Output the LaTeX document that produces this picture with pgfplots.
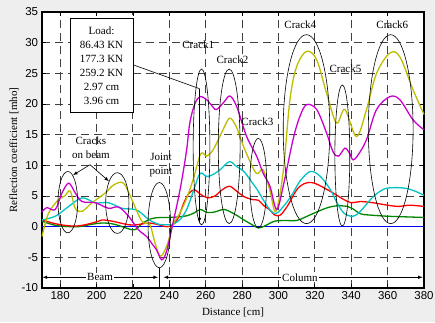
\documentclass[border=0pt]{standalone}
\usepackage{fontspec}
\setmainfont{Liberation Serif}
\setsansfont{Liberation Sans}
\usepackage{pgfplots}
\pgfplotsset{compat=1.18}
\definecolor{cmag}{RGB}{204,0,204}
\definecolor{cyel}{RGB}{190,190,0}
\definecolor{ccyan}{RGB}{0,196,196}
\definecolor{cgreen}{RGB}{0,135,0}
\definecolor{cred}{RGB}{255,0,0}
\definecolor{cblue}{RGB}{0,0,255}
\definecolor{bggray}{RGB}{238,238,238}
\begin{document}
\fontsize{11}{13}\selectfont
\begin{tikzpicture}
\fill[bggray] (-42pt,-34pt) rectangle (393pt,288pt);
\begin{axis}[
  at={(0,0)}, anchor=south west,
  scale only axis, width=382pt, height=276pt,
  xmin=170, xmax=380, ymin=-10, ymax=35,
  xtick={180,200,...,380}, ytick={-10,-5,...,35},
  grid=major,
  major grid style={black!75, line width=1pt, dash pattern=on 8pt off 5pt},
  axis line style={line width=1.5pt},
  tick style={black, line width=0.8pt}, tick align=inside, major tick length=4pt,
  ticklabel style={font=\sffamily\fontsize{11.5}{13}\selectfont},
  /pgf/number format/assume math mode=true,
  xlabel={Distance [cm]}, ylabel={Reflection coefficient [mho]},
  every axis x label/.style={at={(axis description cs:0.5,-0.087)}, anchor=center},
  every axis y label/.style={at={(axis description cs:-0.0733,0.5)}, rotate=90, anchor=center},
  label style={font=\fontsize{11}{13}\selectfont},
  axis background/.style={fill=white},
  clip=false,
  every axis plot/.append style={line width=1.3pt, smooth, tension=0.55},
]
\addplot[cblue, line width=1.6pt] coordinates {(170,0) (380,0)};
\addplot[cgreen] coordinates {
(170,0.9) (175,0.4) (180,0.1) (190,0.0) (197.5,0.4) (203,0.6) (208,0.5) (212,0.2) (216,-0.2) (221,-0.5) (225,0.5) (230,1.3) (235,1.5) (240,1.5) (245,1.6) (250,1.8) (254,2.3) (257,2.8) (261,2.3) (265,2.4) (270,2.8) (275,2.2) (281,1.1) (285,0.4) (289,-0.2) (293,0.2) (298,0.9) (305,1.0) (310,1.0) (315,1.6) (321,2.4) (327,3.1) (332,3.4) (338,3.3) (341,2.9) (345,2.1) (350,1.9) (360,1.7) (370,1.6) (380,1.5)};
\addplot[cred] coordinates {
(170,1.1) (177,0.5) (183,0.2) (189,0.1) (195,0.4) (200,0.8) (203,1.1) (208.5,0.9) (213,0.6) (218,0.3) (222,0.3) (226,0.5) (229,0.6) (233,0.4) (238.5,0.0) (242,0.3) (245,1.5) (248,3.9) (251,5.5) (254,6.0) (257,5.3) (261,4.7) (265,5.0) (269,6.0) (273,6.6) (277,5.8) (281,4.9) (286,4.4) (289,4.3) (292,3.4) (295,2.8) (298,1.9) (301,1.9) (305,3.4) (310,6.0) (314,7.0) (318,7.2) (322,6.8) (330,5.5) (335.5,4.5) (340,3.9) (345,4.1) (352,3.9) (360,3.5) (366,3.3) (372,3.5) (380,3.3)};
\addplot[ccyan] coordinates {
(170,1.1) (177.3,1.7) (184.7,3.3) (192,4.7) (199.3,3.9) (206.6,3.9) (213.9,3.0) (221.3,2.8) (225,2.1) (229,1.1) (234,0.4) (238.5,0.3) (242,0.4) (246,1.2) (249,2.5) (251,3.9) (254,6.5) (257,8.7) (260.5,8.2) (264,8.5) (268,9.3) (273,10.6) (277,9.8) (281,9.0) (285,7.4) (288.4,6.0) (292,4.2) (296,2.5) (299,2.2) (303,3.4) (307,5.0) (312,7.5) (317.6,9.0) (323,8.2) (328.6,6.0) (332,4.0) (336,2.2) (341,1.7) (345,2.5) (350.5,4.4) (355,5.6) (360,6.3) (369,6.3) (375,5.8) (380,5.1)};
\addplot[cyel] coordinates {
(170,-1.6) (173.6,2.2) (179.1,4.4) (182.5,5.0) (185.5,5.8) (188.3,3.0) (192,2.5) (197.5,3.9) (204.8,5.5) (209.4,6.8) (214.8,7.1) (219.4,4.4) (224.9,0.9) (229.3,0.3) (232,-2.5) (235,-4.8) (238.5,-3.2) (242,0.3) (245,1.8) (247.6,3.3) (250,5.0) (253.1,7.7) (256.7,11.5) (258.5,12.0) (260.4,11.5) (264,12.5) (269.5,15.8) (273.2,17.7) (276.8,16.3) (279,14.5) (282.3,12.0) (287.8,8.7) (291.5,9.3) (295.2,6.0) (298.5,2.5) (302.5,8.7) (306.3,20.7) (310,26.1) (315.5,28.6) (321,27.2) (326.4,21.8) (331.9,16.9) (336.5,19.1) (342.9,14.7) (348.4,19.1) (353.9,25.0) (361.2,28.3) (366.7,27.7) (374,22.3) (380,18.3)};
\addplot[cmag] coordinates {
(170,2.4) (172.7,3.1) (177.3,2.8) (181,5.5) (184.7,7.1) (188.3,5.5) (192,4.1) (199.3,3.9) (206.6,3.0) (212.1,3.2) (217.6,1.7) (223,-0.5) (227.5,-1.6) (230.5,-2.8) (233,-3.8) (235.8,-5.4) (238.5,-4.0) (242,0.6) (244.5,4.0) (246.8,7.5) (249.5,12.5) (251.3,17.0) (254,20.0) (256.8,21.2) (260.5,20.7) (264,19.5) (266,19.1) (270,20.3) (273.3,21.3) (277,19.6) (282.5,14.7) (288,11.5) (291.6,8.7) (295.3,6.6) (299,2.8) (302.6,6.6) (308,14.2) (311.8,18.0) (315.5,19.9) (321,19.1) (326.4,15.3) (330,12.2) (333,11.5) (336.5,12.8) (339,12.0) (341,10.9) (344,11.8) (348.4,14.2) (353.9,19.1) (361.2,21.2) (366.7,20.7) (374,17.4) (380,15.8)};
% ellipses
\draw[black, line width=0.6pt] (axis cs:184.2,4.0) ellipse [x radius=5.4, y radius=5.0];
\draw[black, line width=0.6pt] (axis cs:211.4,3.85) ellipse [x radius=6.4, y radius=4.95];
\draw[black, line width=0.6pt] (axis cs:234.5,0.25) ellipse [x radius=6.2, y radius=6.95];
\draw[black, line width=0.6pt] (axis cs:257.7,13.0) ellipse [x radius=4.6, y radius=12.7];
\draw[black, line width=0.6pt] (axis cs:272.9,13.1) ellipse [x radius=6.0, y radius=12.6];
\draw[black, line width=0.6pt] (axis cs:288.9,7.1) ellipse [x radius=4.6, y radius=7.3];
\draw[black, line width=0.6pt] (axis cs:315.4,15.9) ellipse [x radius=12.8, y radius=15.4];
\draw[black, line width=0.6pt] (axis cs:335.1,11.6) ellipse [x radius=4.1, y radius=11.5];
\draw[black, line width=0.6pt] (axis cs:361.7,15.9) ellipse [x radius=12.3, y radius=15.4];
% load box
\draw[black, line width=0.6pt] (axis cs:220,26.4) -- (axis cs:256.6,22.5);
\draw[black, line width=0.6pt, -latex] (axis cs:256.6,22.5) -- (axis cs:256.6,0.7);
\draw[black, line width=0.6pt, fill=white] (axis cs:185.4,18.6) rectangle (axis cs:220,34);
\node[align=center, font=\fontsize{11}{14}\selectfont] at (axis cs:202.7,26.3) {Load:\\86.43 KN\\177.3 KN\\259.2 KN\\2.97 cm\\3.96 cm};
% crack labels
\node at (axis cs:255.9,29.6) {Crack1};
\node at (axis cs:274.7,27.2) {Crack2};
\node at (axis cs:288.4,17.1) {Crack3};
\node at (axis cs:312,32.9) {Crack4};
\node at (axis cs:336.8,25.8) {Crack5};
\node at (axis cs:362.6,32.9) {Crack6};
\node[align=center, font=\fontsize{11}{14}\selectfont] at (axis cs:196.9,12.9) {Cracks\\on beam};
\node[align=center, font=\fontsize{11}{14}\selectfont] at (axis cs:235.4,10.1) {Joint\\point};
\draw[black, line width=0.6pt, -latex] (axis cs:196.4,10.1) -- (axis cs:187.0,8.4);
\draw[black, line width=0.6pt, -latex] (axis cs:196.4,10.1) -- (axis cs:206.8,7.4);
% beam / column
\draw[black, line width=0.6pt, latex-latex] (axis cs:170.3,-8.25) -- (axis cs:233.8,-8.25);
\node[fill=white, inner sep=1pt] at (axis cs:201.9,-8.25) {Beam};
\draw[black, line width=0.6pt, latex-latex] (axis cs:236.8,-8.25) -- (axis cs:379.3,-8.25);
\node[fill=white, inner sep=1pt] at (axis cs:311.8,-8.25) {Column};
\draw[black, line width=0.8pt] (axis cs:234.6,-6.7) -- (axis cs:234.6,-10);
\end{axis}
\pgfresetboundingbox
\path[use as bounding box] (-42pt,-34pt) rectangle (393pt,288pt);
\end{tikzpicture}
\end{document}
